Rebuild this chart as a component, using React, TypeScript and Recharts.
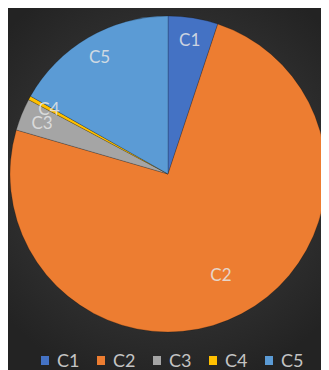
import { PieChart, Pie, Cell, Legend } from "recharts";

const categories = ["C1", "C2", "C3", "C4", "C5"];
const shares = [5.1, 74.4, 3.3, 0.4, 16.8];
const colors = ["#4472C4", "#ED7D31", "#A5A5A5", "#FFC000", "#5B9BD5"];

const data = categories.map((name, i) => ({ name, value: shares[i] }));

const RAD = Math.PI / 180;
const FONT = "Lato, 'Open Sans', sans-serif";

function renderLabel(props: any) {
  const { cx, cy, midAngle, outerRadius, percent, name } = props;
  // big slice gets its label pulled further in, like Excel's best fit
  const r = outerRadius * (percent > 0.5 ? 0.72 : 0.86);
  const x = cx + r * Math.cos(-midAngle * RAD);
  const y = cy + r * Math.sin(-midAngle * RAD);
  return (
    <text
      x={x}
      y={y}
      fill="#e6e6e6"
      fillOpacity={0.85}
      fontSize={17}
      fontFamily={FONT}
      textAnchor="middle"
      dominantBaseline="central"
    >
      {name}
    </text>
  );
}

function LegendRow() {
  return (
    <div
      style={{
        display: "flex",
        justifyContent: "center",
        gap: 14,
        height: 20,
        alignItems: "center",
        paddingLeft: 14,
        fontFamily: FONT,
        fontSize: 18,
        color: "#c4c4c4",
      }}
    >
      {categories.map((c, i) => (
        <div key={c} style={{ display: "flex", alignItems: "center", width: 42 }}>
          <span
            style={{
              width: 8,
              height: 9,
              background: colors[i],
              display: "inline-block",
              marginRight: 8,
            }}
          />
          {c}
        </div>
      ))}
    </div>
  );
}

export default function App() {
  return (
    <div
      style={{
        marginLeft: -3,
        width: 324,
        height: 362,
        background:
          "radial-gradient(circle at 50% 46%, #444444 0%, #333333 45%, #232323 85%)",
      }}
    >
      <PieChart width={324} height={362}>
        <Pie
          data={data}
          dataKey="value"
          nameKey="name"
          cx={158}
          cy={161}
          outerRadius={158}
          startAngle={90}
          endAngle={-270}
          label={renderLabel}
          labelLine={false}
          stroke="rgba(0,0,0,0.25)"
          strokeWidth={0.8}
          isAnimationActive={false}
        >
          {data.map((d, i) => (
            <Cell key={d.name} fill={colors[i]} />
          ))}
        </Pie>
        <Legend
          verticalAlign="bottom"
          content={<LegendRow />}
          wrapperStyle={{ bottom: 0, left: 0, width: 324 }}
        />
      </PieChart>
    </div>
  );
}
